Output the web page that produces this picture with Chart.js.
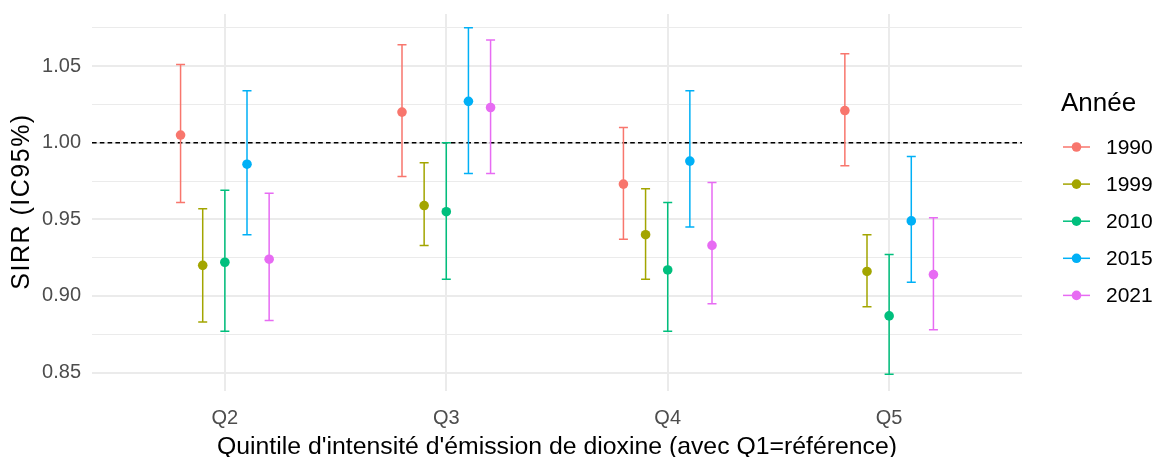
<!DOCTYPE html>
<html>
<head>
<meta charset="utf-8">
<script src="https://cdn.jsdelivr.net/npm/chart.js@4/dist/chart.umd.min.js"></script>
<style>
html,body{margin:0;padding:0;background:#fff;}
#wrap{position:relative;width:1154px;height:457px;}
</style>
</head>
<body>
<div id="wrap"><canvas id="c" width="1154" height="457"></canvas></div>
<script>
// ---- data ----
const categories = ["Q2", "Q3", "Q4", "Q5"];
const years = ["1990", "1999", "2010", "2015", "2021"];
const colors = ["#F8766D", "#A3A500", "#00BF7D", "#00B0F6", "#E76BF3"];
// estimates per year, per quintile (Q2..Q5)
const est1990 = [1.005, 1.020, 0.973, 1.021];
const est1999 = [0.920, 0.959, 0.940, 0.916];
const est2010 = [0.922, 0.955, 0.917, 0.887];
const est2015 = [0.986, 1.027, 0.988, 0.949];
const est2021 = [0.924, 1.023, 0.933, 0.914];
const lo1990 = [0.961, 0.978, 0.937, 0.985];
const lo1999 = [0.883, 0.933, 0.911, 0.893];
const lo2010 = [0.877, 0.911, 0.877, 0.849];
const lo2015 = [0.940, 0.980, 0.945, 0.909];
const lo2021 = [0.884, 0.980, 0.895, 0.878];
const hi1990 = [1.051, 1.064, 1.010, 1.058];
const hi1999 = [0.957, 0.987, 0.970, 0.940];
const hi2010 = [0.969, 1.000, 0.961, 0.927];
const hi2015 = [1.034, 1.075, 1.034, 0.991];
const hi2021 = [0.967, 1.067, 0.974, 0.951];
const yTicks = [0.85, 0.875, 0.90, 0.925, 0.95, 0.975, 1.00, 1.025, 1.05, 1.075];
const refLine = 1.00;
const yTitle = 'SIRR (IC95%)';
const xTitle = "Quintile d'intensité d'émission de dioxine (avec Q1=référence)";
const legendTitle = 'Année';

const ests = [est1990, est1999, est2010, est2015, est2021];
const los = [lo1990, lo1999, lo2010, lo2015, lo2021];
const his = [hi1990, hi1999, hi2010, hi2015, hi2021];
const dodge = 0.1;
const FONT = '"Liberation Sans", Arial, sans-serif';

const datasets = years.map((yr, i) => ({
  label: yr,
  data: categories.map((c, j) => ({ x: j + 1 + (i - 2) * dodge, y: ests[i][j], lo: los[i][j], hi: his[i][j] })),
  backgroundColor: colors[i],
  borderColor: colors[i],
  pointRadius: 4.8,
  pointHoverRadius: 4.8,
  borderWidth: 0,
  showLine: false
}));

const errorBars = {
  id: 'errorBars',
  beforeDatasetsDraw(chart) {
    const ctx = chart.ctx, xs = chart.scales.x, ys = chart.scales.y, ca = chart.chartArea;
    ctx.save();
    ctx.strokeStyle = '#000';
    ctx.lineWidth = 1.3;
    ctx.setLineDash([4.6, 3.2]);
    const yr = ys.getPixelForValue(refLine);
    ctx.beginPath(); ctx.moveTo(ca.left, yr); ctx.lineTo(ca.right, yr); ctx.stroke();
    ctx.restore();
    chart.data.datasets.forEach(ds => {
      ctx.save();
      ctx.strokeStyle = ds.borderColor;
      ctx.lineWidth = 1.5;
      ds.data.forEach(p => {
        const x = xs.getPixelForValue(p.x);
        const y1 = ys.getPixelForValue(p.lo), y2 = ys.getPixelForValue(p.hi);
        const hw = 4.5;
        ctx.beginPath();
        ctx.moveTo(x, y1); ctx.lineTo(x, y2);
        ctx.moveTo(x - hw, y1); ctx.lineTo(x + hw, y1);
        ctx.moveTo(x - hw, y2); ctx.lineTo(x + hw, y2);
        ctx.stroke();
      });
      ctx.restore();
    });
  }
};

const textPlugin = {
  id: 'ggText',
  afterDraw(chart) {
    const ctx = chart.ctx, ca = chart.chartArea;
    ctx.save();
    // y-axis title
    ctx.translate(22, (ca.top + ca.bottom) / 2 - 1);
    ctx.rotate(-Math.PI / 2);
    ctx.fillStyle = '#000';
    ctx.font = '25px ' + FONT;
    try { ctx.letterSpacing = '1.5px'; } catch (e) {}
    ctx.textAlign = 'center';
    ctx.textBaseline = 'middle';
    ctx.fillText(yTitle, 0, 0);
    ctx.restore();

    ctx.save();
    ctx.fillStyle = '#000';
    ctx.font = '26px ' + FONT;
    ctx.textBaseline = 'alphabetic';
    ctx.textAlign = 'left';
    ctx.fillText(legendTitle, 1061, 111);
    ctx.font = '21px ' + FONT;
    ctx.textBaseline = 'middle';
    years.forEach((yr, i) => {
      const y = 147 + i * 37.1;
      ctx.strokeStyle = colors[i];
      ctx.lineWidth = 1.5;
      ctx.beginPath(); ctx.moveTo(1063, y); ctx.lineTo(1090, y); ctx.stroke();
      ctx.fillStyle = colors[i];
      ctx.beginPath(); ctx.arc(1076.5, y, 4.8, 0, Math.PI * 2); ctx.fill();
      ctx.fillStyle = '#000';
      ctx.fillText(yr, 1106, y + 1);
    });
    ctx.restore();
  }
};

new Chart(document.getElementById('c'), {
  type: 'scatter',
  data: { datasets },
  plugins: [errorBars, textPlugin],
  options: {
    responsive: false,
    animation: false,
    events: [],
    layout: { padding: { top: 14, right: 132, left: 0, bottom: 0 } },
    plugins: { legend: { display: false }, tooltip: { enabled: false } },
    scales: {
      x: {
        type: 'linear', min: 0.4, max: 4.6,
        afterBuildTicks(s) { s.ticks = categories.map((c, j) => ({ value: j + 1 })); },
        afterFit(s) { s.height = 66; s.paddingLeft = 0; s.paddingRight = 0; },
        ticks: {
          color: '#4D4D4D', padding: 15,
          font: { family: FONT, size: 20 },
          callback(v) { return categories[Math.round(v) - 1]; }
        },
        grid: { color: '#EBEBEB', lineWidth: 2, drawTicks: false },
        border: { display: false },
        title: {
          display: true, text: xTitle,
          color: '#000', font: { family: FONT, size: 24.8, lineHeight: 0.8 },
          padding: { top: 0, bottom: 0 }
        }
      },
      y: {
        min: 0.838, max: 1.084,
        afterBuildTicks(s) { s.ticks = yTicks.map(v => ({ value: v })); },
        afterFit(s) { s.width = 92; s.paddingTop = 0; s.paddingBottom = 0; },
        ticks: {
          color: '#4D4D4D', padding: 11, autoSkip: false,
          font: { family: FONT, size: 20 },
          callback(v) { const r = Math.round(v * 1000); return (r % 50 === 0) ? v.toFixed(2) : ''; }
        },
        grid: {
          color: '#EBEBEB', drawTicks: false,
          lineWidth(ctx) { const v = ctx.tick ? ctx.tick.value : 0; return (Math.round(v * 1000) % 50 === 0) ? 2 : 1; }
        },
        border: { display: false },
        title: { display: false }
      }
    }
  }
});
</script>
</body>
</html>
